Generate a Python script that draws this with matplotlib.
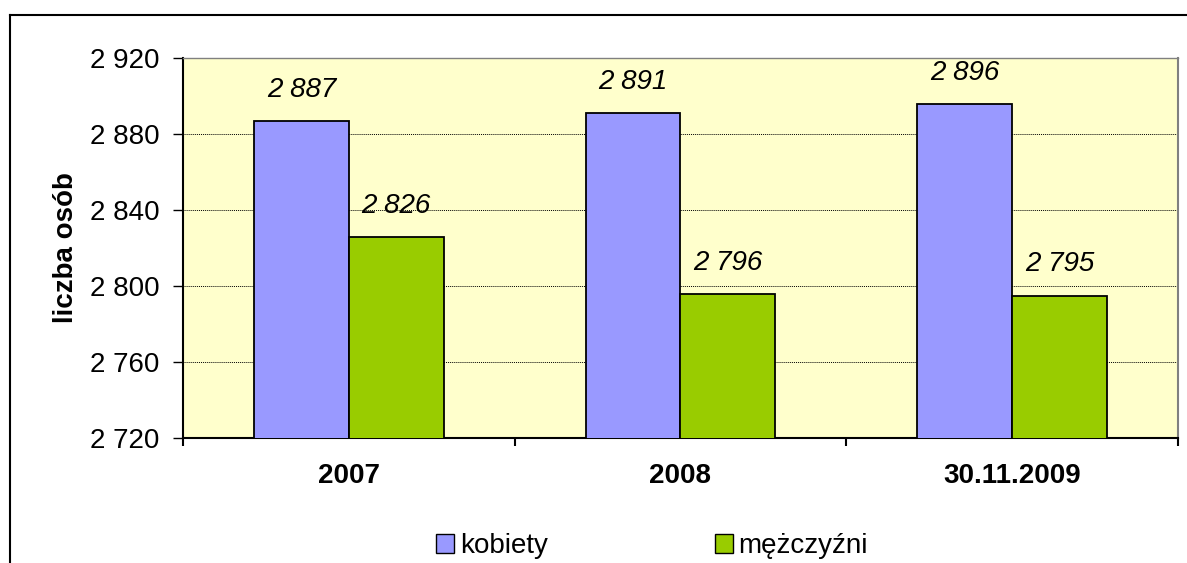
import matplotlib
matplotlib.use("Agg")
import matplotlib.pyplot as plt
import numpy as np
from matplotlib.patches import Patch
from matplotlib.lines import Line2D

categories = ["2007", "2008", "30.11.2009"]
kobiety = [2887, 2891, 2896]
mezczyzni = [2826, 2796, 2795]
labels_k = ["2 887", "2 891", "2 896"]
labels_m = ["2 826", "2 796", "2 795"]
yticks = [2720, 2760, 2800, 2840, 2880, 2920]
ytick_labels = ["2 720", "2 760", "2 800", "2 840", "2 880", "2 920"]

plt.rcParams['font.family'] = ['Liberation Sans', 'DejaVu Sans']
FS = 20

W, H = 1187, 563
fig = plt.figure(figsize=(W/100, H/100), dpi=100)

# outer chart frame (left and top only visible)
fig.add_artist(Line2D([10/W, 10/W], [0, 1 - 15/H], color='black', lw=1.5, transform=fig.transFigure))
fig.add_artist(Line2D([10/W, 1.0], [1 - 15/H, 1 - 15/H], color='black', lw=1.5, transform=fig.transFigure))

ax = fig.add_axes([183/W, 1 - 438/H, (1178 - 183)/W, (438 - 58)/H])
ax.set_facecolor('#FFFFCC')

x = np.arange(len(categories))
bw = 1 / 3.5
ax.bar(x - bw/2, kobiety, width=bw, color='#9999FF', edgecolor='black', lw=1.3, zorder=3)
ax.bar(x + bw/2, mezczyzni, width=bw, color='#99CC00', edgecolor='black', lw=1.3, zorder=3)

for i in range(len(categories)):
    ax.annotate(labels_k[i], (x[i] - bw/2, kobiety[i]), xytext=(0, 13), textcoords='offset points',
                ha='center', va='bottom', fontsize=FS, style='italic')
    ax.annotate(labels_m[i], (x[i] + bw/2, mezczyzni[i]), xytext=(0, 13), textcoords='offset points',
                ha='center', va='bottom', fontsize=FS, style='italic')

ax.set_xlim(-0.5, len(categories) - 0.5)
ax.set_ylim(2720, 2920)
ax.set_yticks(yticks)
ax.set_yticklabels(ytick_labels, fontsize=FS)
ax.yaxis.grid(True, color='black', linestyle=(0, (1, 1)), lw=0.7, zorder=1)

ax.set_xticks(x)
ax.set_xticklabels(categories, fontsize=FS, fontweight='bold')
ax.tick_params(axis='x', length=0, pad=18)
ax.set_xticks(np.arange(len(categories) + 1) - 0.5, minor=True)
ax.tick_params(axis='x', which='minor', length=6, width=1.5, direction='out')
ax.tick_params(axis='y', length=7, width=1.0, direction='out', pad=10)

ax.spines['left'].set_color('black')
ax.spines['left'].set_linewidth(1.5)
ax.spines['bottom'].set_color('black')
ax.spines['bottom'].set_linewidth(1.5)
ax.spines['right'].set_color('#808080')
ax.spines['right'].set_linewidth(1.5)
ax.spines['top'].set_color('#808080')
ax.spines['top'].set_linestyle((0, (1, 1)))
ax.spines['top'].set_linewidth(1.0)

ax.set_ylabel("liczba osób", fontsize=FS, fontweight='bold', labelpad=8)

handles = [Patch(facecolor='#9999FF', edgecolor='black', label='kobiety'),
           Patch(facecolor='#99CC00', edgecolor='black', label='mężczyźni')]
fig.legend(handles=handles, loc='center', bbox_to_anchor=(652/W, 1 - 546/H), ncol=2,
           frameon=False, fontsize=FS, handlelength=0.65, handleheight=0.65,
           handletextpad=0.2, columnspacing=6.0)

fig.savefig("out.png", dpi=100)
